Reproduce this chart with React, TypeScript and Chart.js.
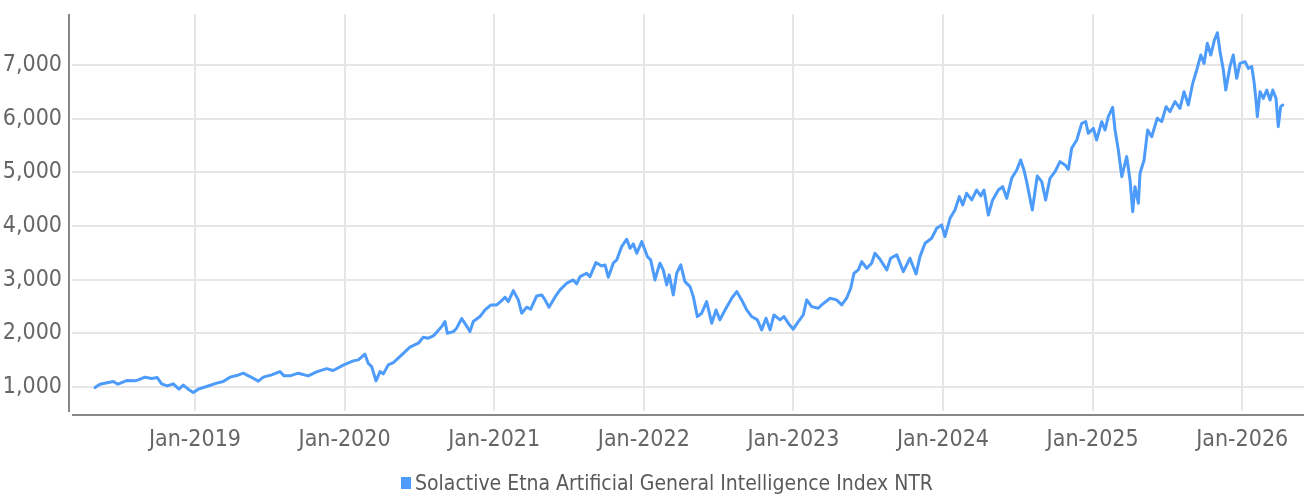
import React, { useEffect, useRef } from "react";
import { Chart, registerables } from "chart.js";

Chart.register(...registerables);

const seriesLabel = "Solactive Etna Artificial General Intelligence Index NTR";

// observation dates as decimal years
const obsDates: number[] = [
  2018.332, 2018.365, 2018.454, 2018.485, 2018.543, 2018.599, 2018.621, 2018.666, 2018.711, 2018.748,
  2018.777, 2018.815, 2018.855, 2018.893, 2018.922, 2018.955, 2018.989, 2019.022, 2019.078, 2019.145,
  2019.189, 2019.234, 2019.279, 2019.323, 2019.368, 2019.423, 2019.457, 2019.513, 2019.568, 2019.595,
  2019.635, 2019.691, 2019.757, 2019.813, 2019.880, 2019.924, 2019.991, 2020.058, 2020.092, 2020.136,
  2020.158, 2020.181, 2020.210, 2020.237, 2020.259, 2020.292, 2020.326, 2020.382, 2020.437, 2020.493,
  2020.526, 2020.560, 2020.593, 2020.620, 2020.649, 2020.671, 2020.687, 2020.727, 2020.749, 2020.783,
  2020.811, 2020.838, 2020.860, 2020.905, 2020.939, 2020.979, 2021.017, 2021.050, 2021.072, 2021.094,
  2021.128, 2021.161, 2021.184, 2021.217, 2021.244, 2021.284, 2021.318, 2021.340, 2021.366, 2021.406,
  2021.440, 2021.485, 2021.529, 2021.551, 2021.574, 2021.618, 2021.640, 2021.680, 2021.719, 2021.741,
  2021.763, 2021.796, 2021.819, 2021.852, 2021.886, 2021.908, 2021.930, 2021.953, 2021.986, 2022.008,
  2022.024, 2022.046, 2022.075, 2022.097, 2022.108, 2022.130, 2022.153, 2022.170, 2022.197, 2022.220,
  2022.247, 2022.275, 2022.309, 2022.331, 2022.358, 2022.387, 2022.420, 2022.454, 2022.483, 2022.509,
  2022.543, 2022.588, 2022.621, 2022.654, 2022.688, 2022.721, 2022.759, 2022.788, 2022.817, 2022.844,
  2022.870, 2022.910, 2022.937, 2022.966, 2022.999, 2023.033, 2023.066, 2023.089, 2023.122, 2023.166,
  2023.189, 2023.245, 2023.289, 2023.323, 2023.356, 2023.383, 2023.405, 2023.434, 2023.457, 2023.490,
  2023.523, 2023.545, 2023.579, 2023.624, 2023.650, 2023.691, 2023.735, 2023.779, 2023.820, 2023.846,
  2023.880, 2023.924, 2023.958, 2023.991, 2024.013, 2024.047, 2024.080, 2024.109, 2024.132, 2024.158,
  2024.192, 2024.225, 2024.252, 2024.274, 2024.303, 2024.332, 2024.370, 2024.399, 2024.426, 2024.459,
  2024.493, 2024.519, 2024.541, 2024.559, 2024.597, 2024.630, 2024.660, 2024.686, 2024.715, 2024.749,
  2024.782, 2024.816, 2024.838, 2024.860, 2024.894, 2024.927, 2024.954, 2024.971, 2025.005, 2025.027,
  2025.061, 2025.083, 2025.105, 2025.134, 2025.150, 2025.172, 2025.195, 2025.228, 2025.250, 2025.268,
  2025.283, 2025.306, 2025.317, 2025.344, 2025.368, 2025.395, 2025.432, 2025.462, 2025.491, 2025.517,
  2025.551, 2025.584, 2025.611, 2025.640, 2025.669, 2025.696, 2025.723, 2025.745, 2025.767, 2025.790,
  2025.814, 2025.834, 2025.852, 2025.874, 2025.890, 2025.918, 2025.940, 2025.963, 2025.985, 2026.019,
  2026.041, 2026.064, 2026.079, 2026.092, 2026.101, 2026.119, 2026.141, 2026.164, 2026.186, 2026.204,
  2026.226, 2026.241, 2026.257, 2026.271,
];

const indexValues: number[] = [
  987, 1050, 1100, 1050, 1117, 1112, 1130, 1180, 1155, 1173,
  1056, 1019, 1056, 957, 1032, 957, 894, 957, 1006, 1069,
  1099, 1181, 1211, 1255, 1192, 1106, 1181, 1224, 1285, 1205,
  1205, 1255, 1205, 1280, 1341, 1304, 1404, 1484, 1503, 1609,
  1441, 1378, 1112, 1285, 1242, 1410, 1453, 1596, 1740, 1814,
  1926, 1907, 1950, 2030, 2123, 2217, 2000, 2030, 2094, 2273,
  2155, 2030, 2217, 2310, 2434, 2528, 2528, 2608, 2671, 2589,
  2794, 2621, 2373, 2485, 2447, 2695, 2714, 2621, 2485, 2671,
  2807, 2932, 2993, 2919, 3055, 3118, 3055, 3316, 3254, 3273,
  3043, 3305, 3366, 3614, 3752, 3584, 3664, 3491, 3707, 3550,
  3428, 3366, 2993, 3211, 3305, 3180, 2900, 3087, 2714, 3118,
  3273, 2962, 2868, 2682, 2310, 2373, 2589, 2187, 2434, 2248,
  2434, 2652, 2776, 2621, 2434, 2310, 2248, 2062, 2280, 2062,
  2341, 2248, 2310, 2187, 2075, 2217, 2341, 2621, 2496, 2466,
  2528, 2652, 2621, 2528, 2652, 2839, 3118, 3180, 3335, 3211,
  3305, 3491, 3379, 3180, 3398, 3460, 3148, 3398, 3105, 3428,
  3677, 3770, 3956, 4018, 3800, 4142, 4298, 4546, 4391, 4608,
  4484, 4670, 4558, 4670, 4204, 4484, 4670, 4732, 4515, 4887,
  5043, 5229, 5043, 4825, 4298, 4931, 4825, 4484, 4887, 5011,
  5198, 5136, 5055, 5446, 5602, 5912, 5943, 5726, 5819, 5602,
  5943, 5788, 6036, 6211, 5788, 5415, 4918, 5291, 4856, 4266,
  4732, 4422, 4981, 5229, 5788, 5663, 6006, 5943, 6222, 6129,
  6316, 6192, 6502, 6254, 6658, 6906, 7185, 7030, 7403, 7185,
  7465, 7601, 7247, 6906, 6533, 6968, 7185, 6751, 7030, 7061,
  6937, 6968, 6688, 6347, 6036, 6502, 6378, 6533, 6347, 6533,
  6378, 5850, 6223, 6254,
];

const xTickYears: number[] = [2019, 2020, 2021, 2022, 2023, 2024, 2025, 2026];
const yTickValues: number[] = [1000, 2000, 3000, 4000, 5000, 6000, 7000];

const LINE_COLOR = "#4d9bfa";
const GRID_COLOR = "#e6e6e6";
const AXIS_COLOR = "#878787";
const TEXT_COLOR = "#666666";
const FONT_FAMILY = "'Liberation Sans Narrow', 'DejaVu Sans Condensed', 'Roboto', sans-serif";

const decorPlugin = {
  id: "decor",
  afterDraw(chart: any) {
    const { ctx, chartArea } = chart;
    ctx.save();
    ctx.strokeStyle = AXIS_COLOR;
    ctx.lineWidth = 2;
    ctx.beginPath();
    ctx.moveTo(chartArea.left - 3, chartArea.top);
    ctx.lineTo(chartArea.left - 3, chartArea.bottom + 1);
    ctx.moveTo(chartArea.left, chartArea.bottom + 4);
    ctx.lineTo(chartArea.right, chartArea.bottom + 4);
    ctx.stroke();

    // legend
    const label = chart.data.datasets[0].label as string;
    ctx.font = `21px ${FONT_FAMILY}`;
    const tw = ctx.measureText(label).width;
    const boxW = 10;
    const gap = 4;
    const total = boxW + gap + tw;
    const cx = chart.width / 2 + 15;
    const x0 = cx - total / 2;
    const cy = 484;
    ctx.fillStyle = LINE_COLOR;
    ctx.fillRect(x0, cy - 7, boxW, 12);
    ctx.fillStyle = "#5a5a5a";
    ctx.textBaseline = "middle";
    ctx.textAlign = "left";
    ctx.fillText(label, x0 + boxW + gap, cy + 1);
    ctx.restore();
  },
};

function zeroPadding(scale: any) {
  scale.paddingLeft = 0;
  scale.paddingRight = 0;
  scale.paddingTop = 0;
  scale.paddingBottom = 0;
}

export default function App() {
  const canvasRef = useRef<HTMLCanvasElement | null>(null);

  useEffect(() => {
    if (!canvasRef.current) return;
    const points = obsDates.map((d, i) => ({ x: d, y: indexValues[i] }));
    const chart = new Chart(canvasRef.current, {
      type: "line",
      data: {
        datasets: [
          {
            label: seriesLabel,
            data: points,
            borderColor: LINE_COLOR,
            backgroundColor: LINE_COLOR,
            borderWidth: 3,
            pointRadius: 0,
            tension: 0,
            borderJoinStyle: "round",
            borderCapStyle: "round",
          },
        ],
      },
      options: {
        animation: false,
        responsive: true,
        maintainAspectRatio: false,
        layout: { padding: { top: 14, right: 0, bottom: 0, left: 0 } },
        plugins: {
          legend: { display: false },
          tooltip: { enabled: false },
        },
        scales: {
          x: {
            type: "linear",
            min: 2018.178,
            max: 2026.413,
            afterBuildTicks: (scale: any) => {
              scale.ticks = xTickYears.map((v) => ({ value: v }));
            },
            afterFit: (scale: any) => {
              scale.height = 87;
              zeroPadding(scale);
            },
            grid: { color: GRID_COLOR, lineWidth: 2, drawTicks: false },
            border: { display: false },
            ticks: {
              padding: 15,
              maxRotation: 0,
              autoSkip: false,
              color: TEXT_COLOR,
              font: { family: FONT_FAMILY, size: 23 },
              callback: (v: any) => `Jan-${Math.round(Number(v))}`,
            },
          },
          y: {
            type: "linear",
            min: 550,
            max: 7950,
            afterBuildTicks: (scale: any) => {
              scale.ticks = yTickValues.map((v) => ({ value: v }));
            },
            afterFit: (scale: any) => {
              scale.width = 72;
              zeroPadding(scale);
            },
            grid: { color: GRID_COLOR, lineWidth: 2, drawTicks: false },
            border: { display: false },
            ticks: {
              padding: 10,
              color: TEXT_COLOR,
              font: { family: FONT_FAMILY, size: 23 },
              callback: (v: any) => Number(v).toLocaleString("en-US"),
            },
          },
        },
      },
      plugins: [decorPlugin],
    });
    return () => chart.destroy();
  }, []);

  return (
    <div style={{ position: "absolute", left: 0, top: 0, width: 1304, height: 498 }}>
      <canvas ref={canvasRef} />
    </div>
  );
}
